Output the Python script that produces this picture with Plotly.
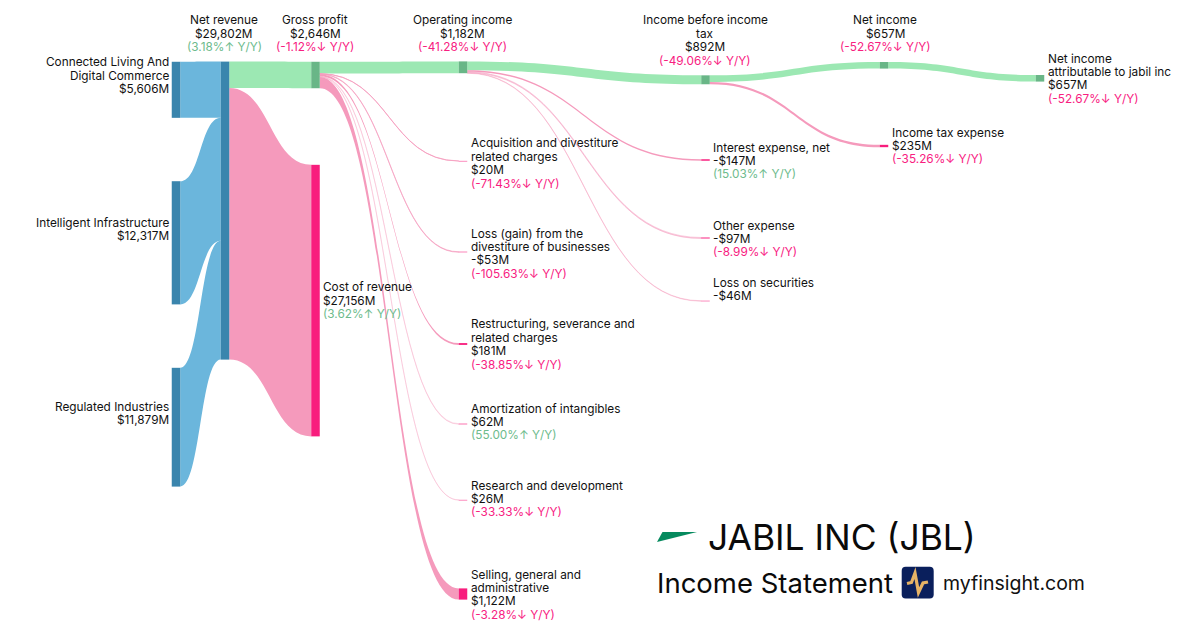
import plotly.graph_objects as go

# ---- data -------------------------------------------------------------
node_names = ["Connected Living And Digital Commerce", "Intelligent Infrastructure", "Regulated Industries",
              "Net revenue", "Gross profit", "Cost of revenue", "Operating income",
              "Acquisition and divestiture related charges", "Loss (gain) from the divestiture of businesses",
              "Restructuring, severance and related charges", "Amortization of intangibles",
              "Research and development", "Selling, general and administrative",
              "Income before income tax", "Interest expense, net", "Other expense", "Loss on securities",
              "Net income", "Income tax expense", "Net income attributable to jabil inc"]
link_source = [0, 1, 2, 3, 3, 4, 4, 4, 4, 4, 4, 4, 6, 6, 6, 6, 13, 13, 17]
link_target = [3, 3, 3, 4, 5, 6, 7, 8, 9, 10, 11, 12, 13, 14, 15, 16, 17, 18, 19]
link_value = [5606, 12317, 11879, 2646, 27156, 1182, 20, 53, 181, 62, 26, 1122, 892, 147, 97, 46, 657, 235, 657]
link_kind = ["in", "in", "in", "profit", "cost", "profit", "cost", "cost", "cost", "cost", "cost", "cost",
             "profit", "cost", "cost", "cost", "profit", "cost", "profit"]
node_kind = ["in", "in", "in", "in", "profit", "cost", "profit", "cost", "cost", "cost", "cost", "cost", "cost",
             "profit", "cost", "cost", "cost", "profit", "cost", "profit"]

# ---- layout -----------------------------------------------------------
W, H = 1200, 630
SANKEY_H = 298.02  # gives 0.01 px per $M, as in the reference
node_cx = [176, 176, 176, 225, 315.5, 315.5, 463, 463, 463, 463, 463, 463, 463, 705.5, 705.5, 705.5, 705.5,
           884, 884, 1040]
node_cy = [89.8, 242.8, 427.2, 210.6, 75, 300.6, 67.3, 161, 252, 344, 424, 500, 594, 79.8, 160, 238, 301, 65.3, 146, 78.3]
# links under 1 px are stroked 1 px wide by the library; this opacity keeps them as pale as the reference
link_alpha = [1, 1, 1, 1, 1, 1, 0.7, 0.6, 1, 0.3, 0.3, 1, 1, 1, 0.45, 0.4, 1, 1, 1]

LINK = {"in": (107, 182, 220), "profit": (156, 232, 179), "cost": (245, 154, 188)}
NODE = {"in": "#3A85AD", "profit": "#69B687", "cost": "#F81D7D"}
DARK, GREEN, PINK = "#111111", "#6DBB8C", "#F8207F"

labels = [
    (224, 20, "center", [("Net revenue", DARK), ("$29,802M", DARK), ("(3.18%↑ Y/Y)", GREEN)]),
    (315, 20, "center", [("Gross profit", DARK), ("$2,646M", DARK), ("(-1.12%↓ Y/Y)", PINK)]),
    (462, 20, "center", [("Operating income", DARK), ("$1,182M", DARK), ("(-41.28%↓ Y/Y)", PINK)]),
    (705, 20, "center", [("Income before income", DARK), ("tax", DARK), ("$892M", DARK), ("(-49.06%↓ Y/Y)", PINK)]),
    (885, 20, "center", [("Net income", DARK), ("$657M", DARK), ("(-52.67%↓ Y/Y)", PINK)]),
    (1048, 58, "left", [("Net income", DARK), ("attributable to jabil inc", DARK), ("$657M", DARK), ("(-52.67%↓ Y/Y)", PINK)]),
    (169, 62, "right", [("Connected Living And", DARK), ("Digital Commerce", DARK), ("$5,606M", DARK)]),
    (169, 222, "right", [("Intelligent Infrastructure", DARK), ("$12,317M", DARK)]),
    (169, 406, "right", [("Regulated Industries", DARK), ("$11,879M", DARK)]),
    (323, 287, "left", [("Cost of revenue", DARK), ("$27,156M", DARK), ("(3.62%↑ Y/Y)", GREEN)]),
    (471, 143, "left", [("Acquisition and divestiture", DARK), ("related charges", DARK), ("$20M", DARK), ("(-71.43%↓ Y/Y)", PINK)]),
    (471, 233, "left", [("Loss (gain) from the", DARK), ("divestiture of businesses", DARK), ("-$53M", DARK), ("(-105.63%↓ Y/Y)", PINK)]),
    (471, 324, "left", [("Restructuring, severance and", DARK), ("related charges", DARK), ("$181M", DARK), ("(-38.85%↓ Y/Y)", PINK)]),
    (471, 408, "left", [("Amortization of intangibles", DARK), ("$62M", DARK), ("(55.00%↑ Y/Y)", GREEN)]),
    (471, 485, "left", [("Research and development", DARK), ("$26M", DARK), ("(-33.33%↓ Y/Y)", PINK)]),
    (471, 574, "left", [("Selling, general and", DARK), ("administrative", DARK), ("$1,122M", DARK), ("(-3.28%↓ Y/Y)", PINK)]),
    (713, 147, "left", [("Interest expense, net", DARK), ("-$147M", DARK), ("(15.03%↑ Y/Y)", GREEN)]),
    (713, 225, "left", [("Other expense", DARK), ("-$97M", DARK), ("(-8.99%↓ Y/Y)", PINK)]),
    (713, 282, "left", [("Loss on securities", DARK), ("-$46M", DARK)]),
    (892, 132, "left", [("Income tax expense", DARK), ("$235M", DARK), ("(-35.26%↓ Y/Y)", PINK)]),
]
LINE_H = 13.45
FONT = "Inter, sans-serif"

fig = go.Figure(go.Sankey(
    arrangement="fixed",
    domain=dict(x=[0, 1], y=[1 - SANKEY_H / H, 1]),
    node=dict(label=[""] * len(node_names), customdata=node_names,
              x=[c / W for c in node_cx], y=[c / SANKEY_H for c in node_cy],
              pad=0, thickness=8.5, line=dict(width=0),
              color=[NODE[k] for k in node_kind], hoverinfo="skip"),
    link=dict(source=link_source, target=link_target, value=link_value,
              color=["rgba(%d,%d,%d,%g)" % (*LINK[k], a) for k, a in zip(link_kind, link_alpha)],
              hoverinfo="skip", line=dict(width=0)),
))


def text(px, py, s, color=DARK, size=11.8, align="center"):
    fig.add_annotation(xref="paper", yref="paper", x=px / W, y=1 - py / H, text=s, showarrow=False,
                       xanchor=align, yanchor="middle", align=align,
                       font=dict(family=FONT, size=size, color=color), borderpad=0, borderwidth=0)


for px, py, align, lines in labels:
    for i, (s, c) in enumerate(lines):
        text(px, py + 0.5 + i * LINE_H, s, c, 11.8, align)

text(708, 537.5, "JABIL INC (JBL)", "#0A0A0A", 35.4, "left")
text(657, 583, "Income Statement", "#0A0A0A", 27.5, "left")
text(943, 583, "myfinsight.com", "#111111", 19.5, "left")


def P(*pts):
    return "M" + " L".join(f"{x / W:.5f},{1 - y / H:.5f}" for x, y in pts)


def rounded(x0, y0, x1, y1, r):
    f = lambda x, y: f"{x / W:.5f},{1 - y / H:.5f}"
    return (f"M{f(x0 + r, y0)} L{f(x1 - r, y0)} Q{f(x1, y0)} {f(x1, y0 + r)} L{f(x1, y1 - r)} "
            f"Q{f(x1, y1)} {f(x1 - r, y1)} L{f(x0 + r, y1)} Q{f(x0, y1)} {f(x0, y1 - r)} "
            f"L{f(x0, y0 + r)} Q{f(x0, y0)} {f(x0 + r, y0)} Z")


# Jabil logo wedge
fig.add_shape(type="path", xref="paper", yref="paper", line_width=0, fillcolor="#068A5E",
              path=P((657, 542), (662.5, 532), (697, 532)) + " Z")
# myfinsight badge
fig.add_shape(type="path", xref="paper", yref="paper", line=dict(width=0), fillcolor="#0A1F5C",
              path=rounded(901.7, 566.7, 933.7, 598.5, 4))
fig.add_shape(type="path", xref="paper", yref="paper", line=dict(width=3.2, color="#E6B366"),
              path=P((907, 583.5), (911.5, 582.5), (915, 573), (918.5, 592.5), (923, 583), (928, 582)))

fig.update_layout(width=W, height=H, margin=dict(l=0, r=0, t=0, b=0), paper_bgcolor="white", plot_bgcolor="white",
                  font=dict(family=FONT), showlegend=False)
post = """
document.body.style.margin='0';
"""
fig.write_html("out.html", post_script=post, config={"displayModeBar": False, "responsive": False})
